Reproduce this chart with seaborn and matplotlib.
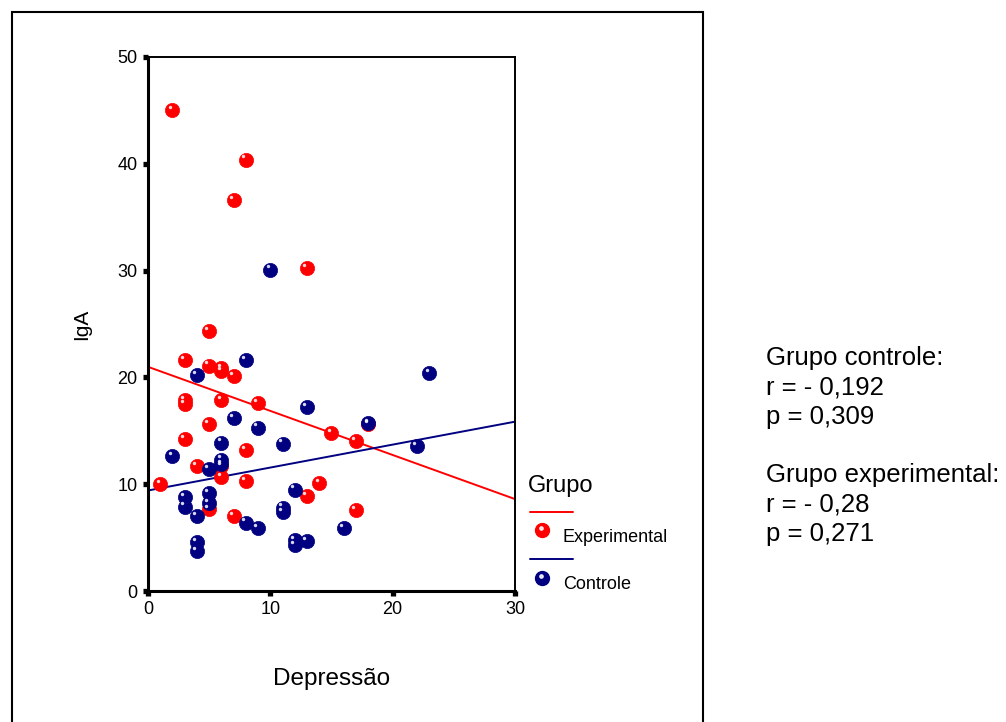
import matplotlib
matplotlib.use("Agg")
import matplotlib.pyplot as plt
import seaborn as sns
import pandas as pd
from matplotlib.lines import Line2D
from matplotlib.patches import Rectangle

# ---- data ----
exp_x = [2, 8, 7, 13, 5, 3, 5, 6, 6, 7, 3, 3, 6, 9, 15, 5, 3, 8, 4, 6,
         6, 8, 1, 14, 13, 5, 7, 18, 17, 17]
exp_y = [45.0, 40.4, 36.6, 30.2, 24.3, 21.6, 21.1, 20.9, 20.6, 20.1, 17.9, 17.5,
         17.9, 17.6, 14.8, 15.6, 14.2, 13.2, 11.7, 11.7, 10.7, 10.3, 10.0, 10.1,
         8.9, 7.7, 7.0, 15.6, 14.0, 7.6]
ctl_x = [10, 8, 4, 13, 7, 9, 6, 11, 2, 5, 6, 6, 12, 3, 3, 5, 5, 4, 8, 9,
         11, 11, 4, 4, 12, 12, 13, 16, 23, 18, 22]
ctl_y = [30.1, 21.6, 20.2, 17.2, 16.2, 15.3, 13.9, 13.8, 12.6, 11.4, 12.3, 11.9,
         9.5, 8.8, 7.9, 9.2, 8.2, 7.0, 6.4, 5.9, 7.8, 7.4, 4.6, 3.7, 4.8, 4.3,
         4.7, 5.9, 20.4, 15.7, 13.6]
groups = ["Experimental", "Controle"]
x_ticks = [0, 10, 20, 30]
y_ticks = [0, 10, 20, 30, 40, 50]
legend_title = "Grupo"
stats_text = ["Grupo controle:", "r = - 0,192", "p = 0,309", "",
              "Grupo experimental:", "r = - 0,28", "p = 0,271"]

df = pd.DataFrame({
    "Depressão": exp_x + ctl_x,
    "IgA": exp_y + ctl_y,
    "Grupo": [groups[0]] * len(exp_x) + [groups[1]] * len(ctl_x),
})

sns.set_style("white")
plt.rcParams["font.family"] = ["Liberation Sans", "DejaVu Sans"]
for k in ["text.color", "axes.labelcolor", "xtick.color", "ytick.color"]:
    plt.rcParams[k] = "black"

RED = "#FF0000"
NAVY = "#000080"
palette = {groups[0]: RED, groups[1]: NAVY}

W, H = 1006, 722
fig = plt.figure(figsize=(W / 100, H / 100), dpi=100)
ax = fig.add_axes([148 / W, 1 - 591 / H, (515 - 148) / W, (591 - 57) / H])
ax.set_xlim(0, 30)
ax.set_ylim(0, 50)

for g in groups:
    sub = df[df["Grupo"] == g]
    sns.regplot(data=sub, x="Depressão", y="IgA", ax=ax, ci=None, truncate=False,
                scatter=False, line_kws={"color": palette[g], "lw": 1.4, "zorder": 2})

for g in groups:
    sub = df[df["Grupo"] == g]
    sns.scatterplot(data=sub, x="Depressão", y="IgA", ax=ax, color=palette[g],
                    s=105, edgecolor=palette[g], linewidth=0.5, legend=False, zorder=3)
    # specular highlight
    sns.scatterplot(x=sub["Depressão"] - 0.22, y=sub["IgA"] + 0.3, ax=ax, color="white",
                    s=6, alpha=0.85, linewidth=0, legend=False, zorder=4)

ax.set_xlim(0, 30)
ax.set_ylim(0, 50)
ax.set_xticks(x_ticks)
ax.set_yticks(y_ticks)
ax.tick_params(axis="both", direction="out", length=3.5, width=3.8, labelsize=13,
               color="black", pad=4, left=True, bottom=True)
for s in ax.spines.values():
    s.set_color("black")
    s.set_linewidth(1.4)
ax.spines["left"].set_linewidth(2.2)
ax.spines["bottom"].set_linewidth(2.2)
ax.set_xlabel("Depressão", fontsize=17.5, labelpad=36)
ax.set_ylabel("IgA", fontsize=15, labelpad=19)

# legend (drawn manually to follow the reference layout)
def fx(px):
    return px / W


def fy(py):
    return 1 - py / H


fig.text(fx(528), fy(492), legend_title, fontsize=17, va="baseline", ha="left")
for (g, line_y, dot_y, text_base) in [(groups[0], 512, 530, 542), (groups[1], 559, 578, 589)]:
    fig.add_artist(Line2D([fx(530), fx(573)], [fy(line_y), fy(line_y)],
                          color=palette[g], lw=1.4, transform=fig.transFigure))
    fig.add_artist(Line2D([fx(542)], [fy(dot_y)], marker="o", markersize=10,
                          color=palette[g], ls="none", transform=fig.transFigure))
    fig.add_artist(Line2D([fx(540.5)], [fy(dot_y - 2)], marker="o", markersize=2.4,
                          color="white", alpha=0.85, ls="none", transform=fig.transFigure))
    fig.text(fx(563), fy(text_base), g, fontsize=13, va="baseline", ha="left")

# stats text
for i, t in enumerate(stats_text):
    fig.text(fx(766), fy(365 + i * 29.3), t, fontsize=18.5, va="baseline", ha="left")

# outer frame
fig.patches.append(Rectangle((12 / W, -0.01), (703 - 12) / W, 1 - 12 / H + 0.01,
                             transform=fig.transFigure, fill=False,
                             edgecolor="black", lw=1.5))

fig.savefig("out.png", dpi=100)
